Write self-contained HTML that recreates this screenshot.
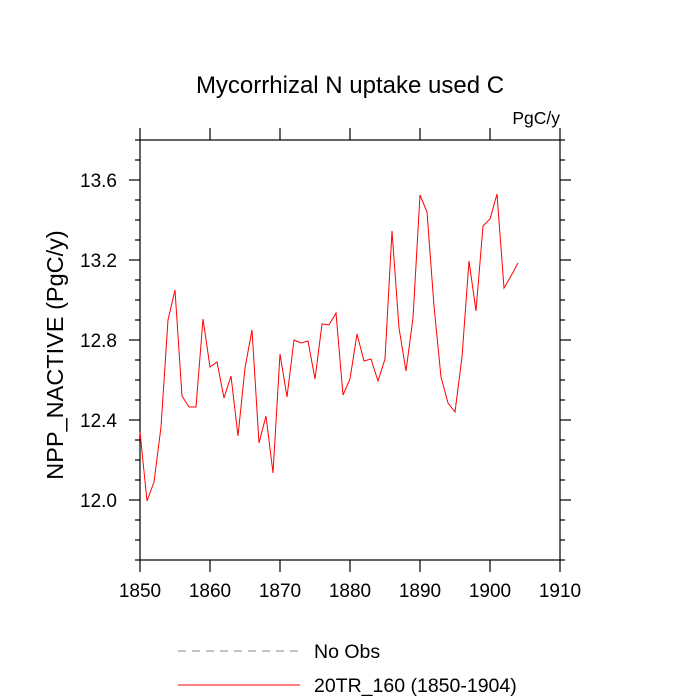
<!DOCTYPE html>
<html><head><meta charset="utf-8"><style>
body{margin:0;background:#fff;}
svg{display:block;font-family:"Liberation Sans",sans-serif;}
</style></head><body>
<svg id="chart" width="700" height="700" xmlns="http://www.w3.org/2000/svg">
<text x="350" y="93" font-size="24" text-anchor="middle">Mycorrhizal N uptake used C</text>
<text x="560" y="124" font-size="17.5" text-anchor="end">PgC/y</text>
<text transform="translate(63,355) rotate(-90)" font-size="23.5" text-anchor="middle">NPP_NACTIVE  (PgC/y)</text>
<g id="axes"></g>
<g id="series"></g>
<g>
<line x1="178" y1="651" x2="300" y2="651" stroke="#888" stroke-width="1" stroke-dasharray="8,6"/>
<text x="314" y="658" font-size="19.5">No Obs</text>
<line x1="178" y1="685" x2="300" y2="685" stroke="red" stroke-width="1"/>
<text x="314" y="692" font-size="19.5">20TR_160 (1850-1904)</text>
</g>
</svg>
<script>
const years = [1850,1851,1852,1853,1854,1855,1856,1857,1858,1859,1860,1861,1862,1863,1864,1865,1866,1867,1868,1869,1870,1871,1872,1873,1874,1875,1876,1877,1878,1879,1880,1881,1882,1883,1884,1885,1886,1887,1888,1889,1890,1891,1892,1893,1894,1895,1896,1897,1898,1899,1900,1901,1902,1903,1904];
const values = [12.34,11.995,12.09,12.365,12.9,13.05,12.52,12.465,12.465,12.905,12.665,12.69,12.51,12.62,12.32,12.66,12.85,12.285,12.42,12.135,12.73,12.515,12.8,12.785,12.795,12.605,12.88,12.875,12.935,12.525,12.605,12.83,12.695,12.705,12.595,12.705,13.345,12.86,12.645,12.91,13.525,13.44,12.97,12.615,12.485,12.44,12.715,13.195,12.945,13.37,13.405,13.53,13.06,13.12,13.185];
const xTicks = [1850,1860,1870,1880,1890,1900,1910];
const yTicks = [12.0,12.4,12.8,13.2,13.6];
const yTickLabels = ["12.0","12.4","12.8","13.2","13.6"];
const L=140,R=560,T=140,B=560,xMin=1850,xMax=1910,yMin=11.7,yMax=13.8;
const sx=v=>L+(v-xMin)/(xMax-xMin)*(R-L);
const sy=v=>B-(v-yMin)/(yMax-yMin)*(B-T);
const NS="http://www.w3.org/2000/svg";
const axes=document.getElementById('axes');
function mk(tag,attrs,parent){const e=document.createElementNS(NS,tag);for(const k in attrs)e.setAttribute(k,attrs[k]);parent.appendChild(e);return e;}
const frame=mk('rect',{x:L,y:T,width:R-L,height:B-T,fill:'none',stroke:'#000','stroke-width':1.2},axes);


xTicks.forEach((t,i)=>{
  const x=sx(t);
  const tb=mk('line',{x1:x,y1:B,x2:x,y2:B+12,stroke:'#000','stroke-width':1.2},axes);
  
  
  const tt=mk('line',{x1:x,y1:T,x2:x,y2:T-12,stroke:'#000','stroke-width':1.2},axes);
  
  
  const lb=mk('text',{x:x,y:B+37,'font-size':19,'text-anchor':'middle'},axes);
  lb.textContent=String(t);
  
  
});
for(let k=117;k<=138;k++){
  const y=sy(k/10);
  const major=yTicks.some(t=>Math.abs(t-k/10)<1e-6);
  const len=major?11:5;
  const a=mk('line',{x1:L,y1:y,x2:L-len,y2:y,stroke:'#000','stroke-width':1.2},axes);
  
  
  const b=mk('line',{x1:R,y1:y,x2:R+len,y2:y,stroke:'#000','stroke-width':1.2},axes);
  
  
}
yTicks.forEach((t,i)=>{
  const lb=mk('text',{x:L-23,y:sy(t)+7,'font-size':19,'text-anchor':'end'},axes);
  lb.textContent=yTickLabels[i];
  
  
});
const pts=years.map((yr,i)=>sx(yr).toFixed(1)+','+sy(values[i]).toFixed(1)).join(' ');
const line=mk('polyline',{points:pts,fill:'none',stroke:'red','stroke-width':1},document.getElementById('series'));


</script>
</body></html>
